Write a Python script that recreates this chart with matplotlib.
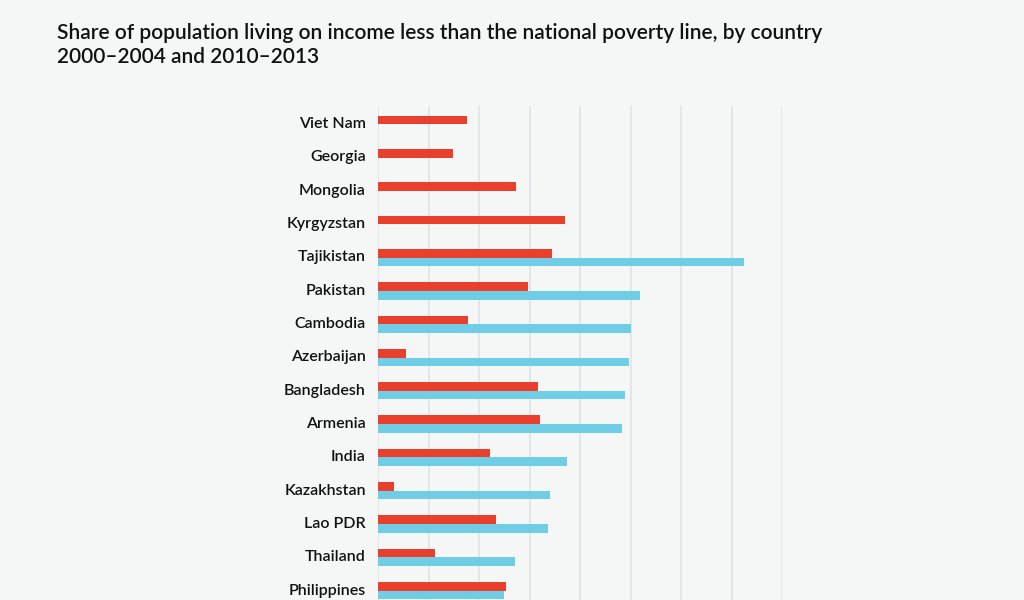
import numpy as np
import matplotlib
matplotlib.use("Agg")
import matplotlib.pyplot as plt

# data (% of population below national poverty line)
countries = ["Viet Nam", "Georgia", "Mongolia", "Kyrgyzstan", "Tajikistan",
             "Pakistan", "Cambodia", "Azerbaijan", "Bangladesh", "Armenia",
             "India", "Kazakhstan", "Lao PDR", "Thailand", "Philippines"]
recent = [17.5, 14.8, 27.3, 37.0, 34.3, 29.6, 17.8, 5.5, 31.7, 32.0,
          22.1, 3.2, 23.4, 11.2, 25.3]          # 2010-2013
early = [np.nan, np.nan, np.nan, np.nan, 72.4, 51.8, 50.1, 49.6, 48.9, 48.3,
         37.3, 34.0, 33.7, 27.1, 24.9]          # 2000-2004

bg = "#f5f7f7"
red = "#e8402c"
cyan = "#6fcee6"
grid_col = "#dde3e5"

plt.rcParams["font.family"] = ["Lato", "DejaVu Sans"]

fig = plt.figure(figsize=(10.24, 6.0), dpi=100, facecolor=bg)
ax = fig.add_axes([378.3 / 1024, 1 - 609 / 600, 404 / 1024, 503 / 600])
ax.set_facecolor(bg)

y = np.arange(len(countries))
h = 0.26
ax.barh(y - h / 2, recent, height=h, color=red, zorder=3)
ax.barh(y + h / 2, early, height=h, color=cyan, zorder=3)

ax.set_xlim(0, 80)
ax.set_ylim(len(countries) - 0.45, -0.55)
ax.set_xticks(np.arange(0, 81, 10))
ax.xaxis.grid(True, color=grid_col, linewidth=1.2, zorder=0)
ax.tick_params(axis="x", length=0, labelbottom=False)
ax.tick_params(axis="y", length=0, pad=9)
ax.set_yticks(y - 0.05)
ax.set_yticklabels(countries, fontsize=11.5, color="#111111", fontweight="semibold")
for s in ax.spines.values():
    s.set_visible(False)

title_lines = ["Share of population living on income less than the national poverty line, by country",
               "2000\u20132004 and 2010\u20132013"]
fig.text(57 / 1024, 1 - 39 / 600, title_lines[0], fontsize=15, color="#111111",
         fontweight="semibold", ha="left", va="baseline")
fig.text(57 / 1024, 1 - 63 / 600, title_lines[1], fontsize=15, color="#111111",
         fontweight="semibold", ha="left", va="baseline")

fig.savefig("out.png", dpi=100, facecolor=bg)
